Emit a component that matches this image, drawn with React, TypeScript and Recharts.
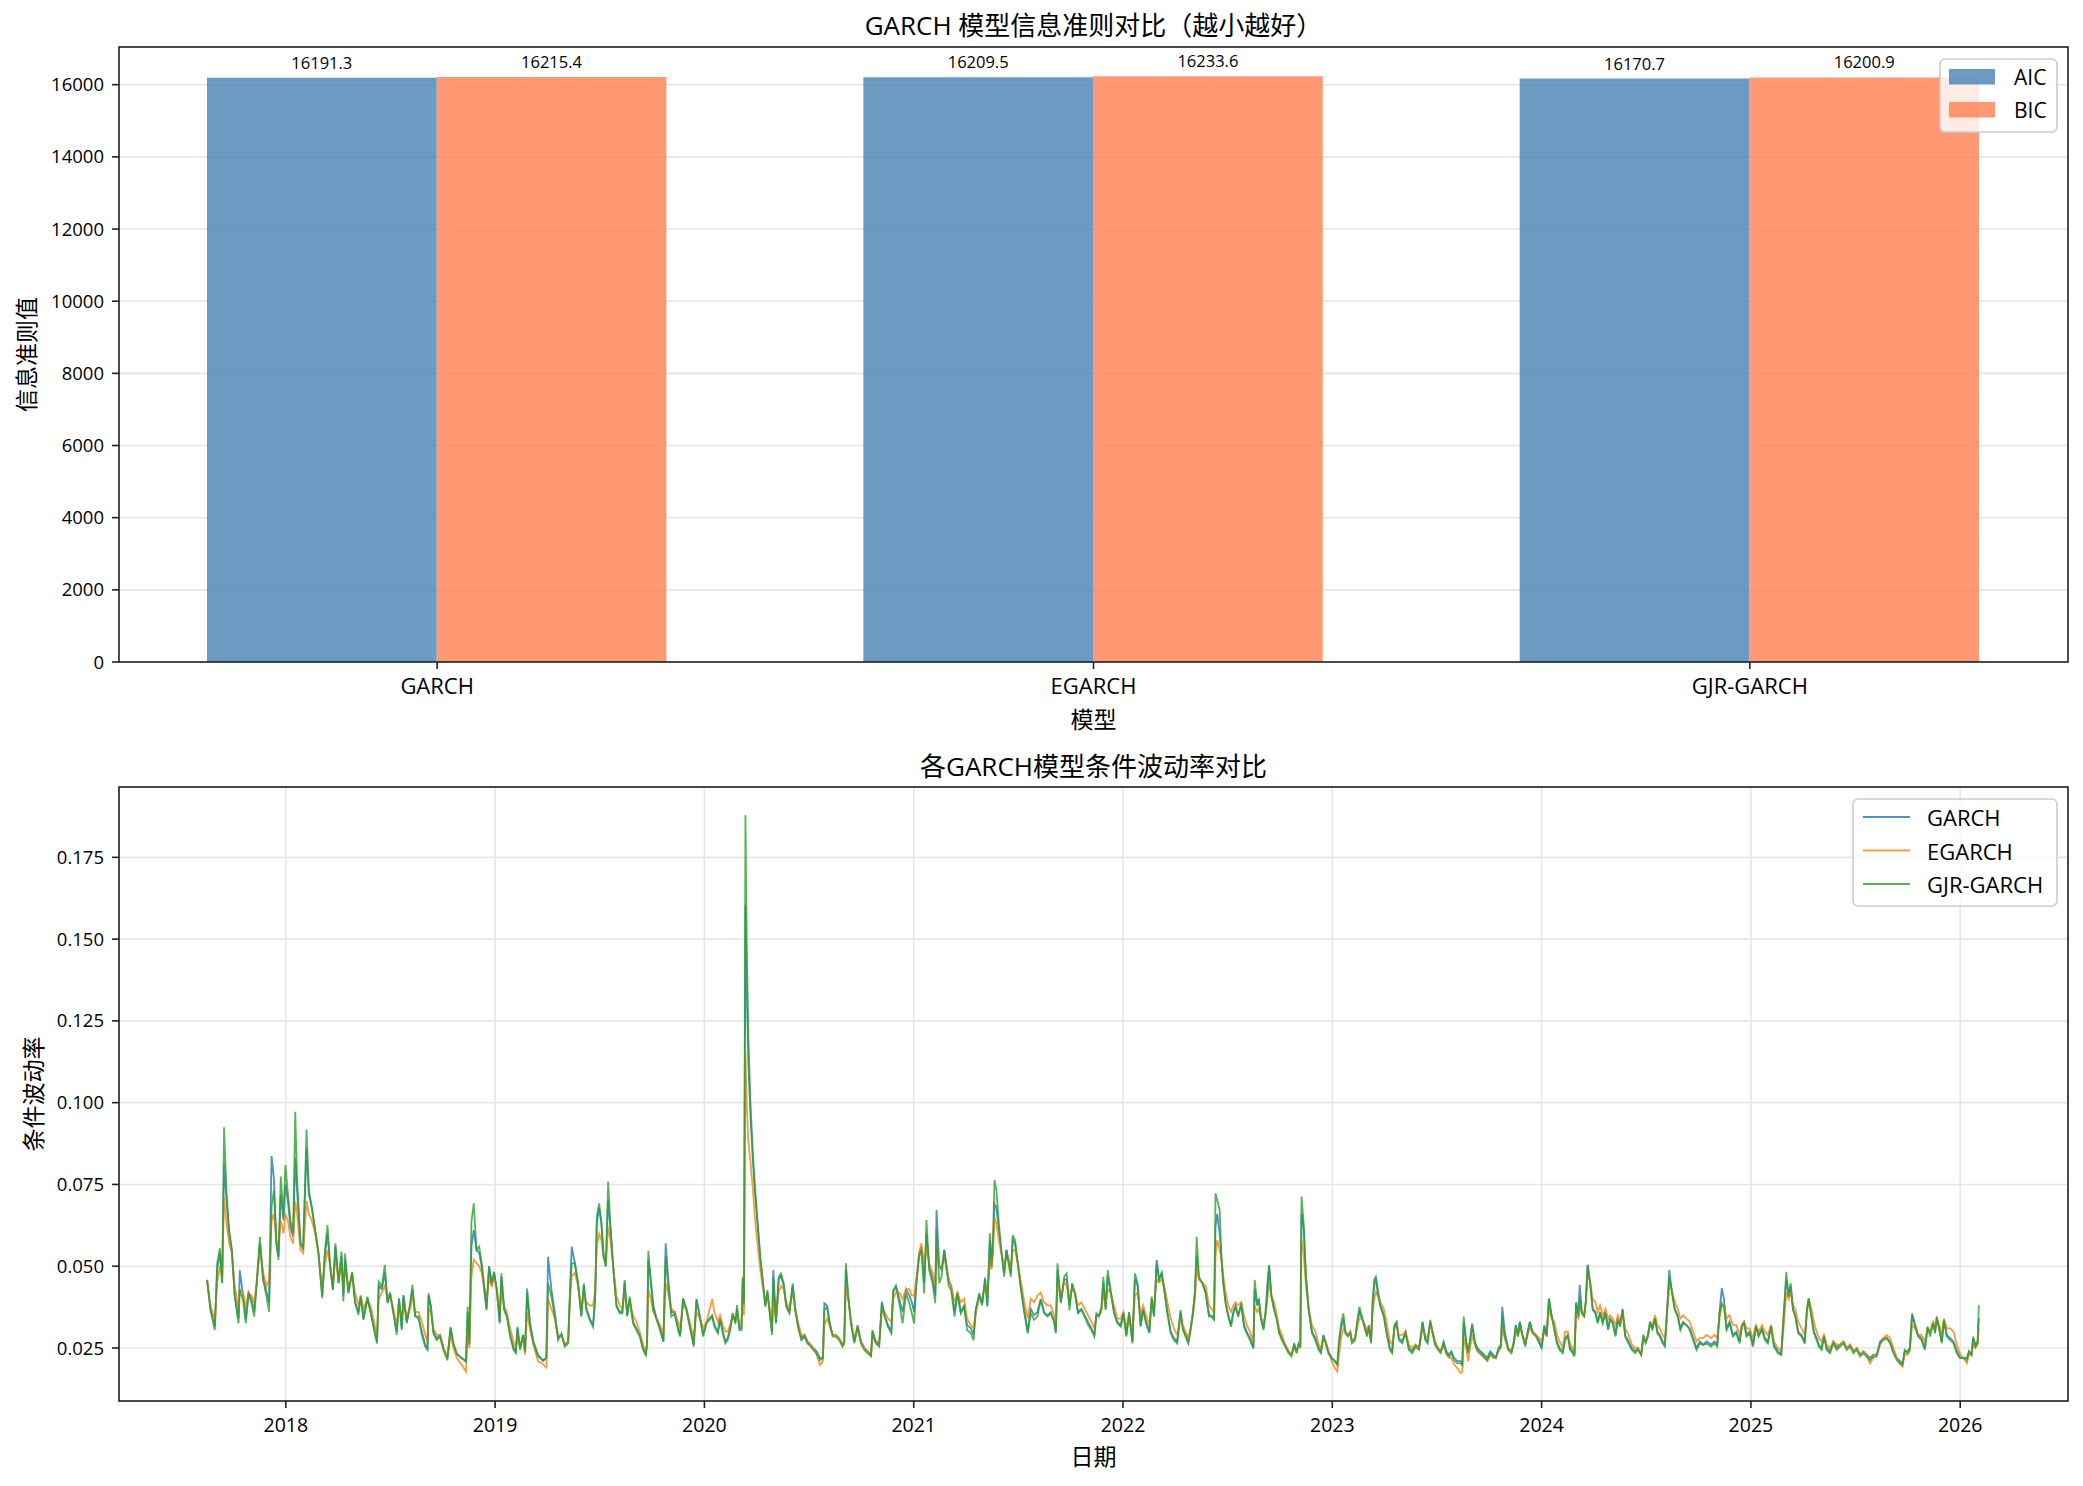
import React from 'react';
import { BarChart, Bar, XAxis, YAxis, CartesianGrid, LabelList, LineChart, Line } from 'recharts';

const FONT = '"Open Sans", "Noto Sans CJK SC", sans-serif';

// ---------- top chart data ----------
const models = ['GARCH', 'EGARCH', 'GJR-GARCH'];
const aicValues = [16191.3, 16209.5, 16170.7];
const bicValues = [16215.4, 16233.6, 16200.9];
const barTicks = [0, 2000, 4000, 6000, 8000, 10000, 12000, 14000, 16000];

// ---------- bottom chart data ----------
const yearTicks = [2018, 2019, 2020, 2021, 2022, 2023, 2024, 2025, 2026];
const volTicks = [0.025, 0.05, 0.075, 0.1, 0.125, 0.15, 0.175];

const volDates = [
  2017.624,2017.640,2017.661,2017.672,2017.685,2017.696,2017.705,2017.717,2017.729,2017.742,
  2017.756,2017.774,2017.780,2017.796,2017.809,2017.822,2017.836,2017.849,2017.861,2017.876,
  2017.892,2017.908,2017.920,2017.932,2017.943,2017.955,2017.965,2017.976,2017.989,2017.998,
  2018.010,2018.022,2018.035,2018.045,2018.054,2018.070,2018.083,2018.099,2018.110,2018.124,
  2018.140,2018.156,2018.174,2018.186,2018.199,2018.212,2018.225,2018.237,2018.252,2018.266,
  2018.275,2018.283,2018.299,2018.317,2018.331,2018.347,2018.358,2018.371,2018.390,2018.409,
  2018.425,2018.436,2018.444,2018.459,2018.473,2018.486,2018.498,2018.514,2018.530,2018.541,
  2018.554,2018.562,2018.578,2018.594,2018.605,2018.618,2018.634,2018.650,2018.666,2018.677,
  2018.682,2018.693,2018.705,2018.721,2018.737,2018.753,2018.772,2018.787,2018.801,2018.817,
  2018.839,2018.861,2018.869,2018.877,2018.887,2018.898,2018.911,2018.924,2018.936,2018.947,
  2018.959,2018.971,2018.984,2018.995,2019.008,2019.022,2019.030,2019.043,2019.056,2019.072,
  2019.088,2019.099,2019.107,2019.119,2019.134,2019.143,2019.153,2019.166,2019.183,2019.205,
  2019.229,2019.245,2019.253,2019.269,2019.285,2019.301,2019.317,2019.333,2019.349,2019.358,
  2019.366,2019.381,2019.396,2019.412,2019.424,2019.436,2019.452,2019.468,2019.478,2019.486,
  2019.497,2019.508,2019.518,2019.529,2019.540,2019.551,2019.564,2019.580,2019.596,2019.608,
  2019.619,2019.631,2019.643,2019.659,2019.675,2019.691,2019.707,2019.720,2019.726,2019.732,
  2019.744,2019.756,2019.772,2019.788,2019.804,2019.815,2019.826,2019.842,2019.858,2019.874,
  2019.884,2019.898,2019.914,2019.930,2019.949,2019.962,2019.978,2019.994,2020.010,
  2020.037,2020.048,2020.064,2020.075,2020.088,2020.100,2020.111,2020.123,2020.135,2020.148,
  2020.156,2020.167,2020.177,2020.183,2020.189,2020.196,2020.202,2020.210,2020.220,2020.231,
  2020.242,2020.255,2020.267,2020.278,2020.291,2020.301,2020.312,2020.323,2020.329,2020.342,
  2020.355,2020.366,2020.379,2020.391,2020.406,2020.422,2020.434,2020.447,2020.463,2020.479,
  2020.492,2020.508,2020.520,2020.536,2020.552,2020.566,2020.573,2020.586,2020.598,2020.613,
  2020.628,2020.644,2020.660,2020.668,2020.676,2020.687,2020.700,2020.716,2020.732,2020.748,
  2020.764,2020.780,2020.796,2020.803,2020.819,2020.835,2020.848,2020.861,2020.877,2020.893,
  2020.902,2020.915,2020.931,2020.947,2020.963,2020.979,2020.991,2021.002,2021.012,2021.026,
  2021.037,2021.050,2021.061,2021.074,2021.090,2021.103,2021.109,2021.122,2021.133,2021.146,
  2021.155,2021.168,2021.179,2021.195,2021.209,2021.225,2021.241,2021.255,2021.273,2021.286,
  2021.297,2021.313,2021.327,2021.341,2021.352,2021.364,2021.372,2021.379,2021.386,2021.395,
  2021.407,2021.418,2021.432,2021.443,2021.453,2021.464,2021.473,2021.484,2021.497,2021.513,
  2021.529,2021.545,2021.559,2021.575,2021.591,2021.607,2021.623,2021.639,2021.655,2021.671,
  2021.679,2021.687,2021.703,2021.719,2021.731,2021.744,2021.757,2021.770,2021.785,2021.801,
  2021.817,2021.833,2021.849,2021.863,2021.873,2021.885,2021.897,2021.906,2021.917,2021.927,
  2021.941,2021.957,2021.973,2021.989,2022.002,2022.016,2022.029,2022.045,2022.057,2022.070,
  2022.084,2022.096,2022.110,2022.126,2022.137,2022.148,2022.161,2022.172,2022.185,2022.197,
  2022.212,2022.228,2022.243,2022.259,2022.275,2022.286,2022.299,2022.312,2022.323,2022.334,
  2022.344,2022.352,2022.363,2022.379,2022.395,2022.411,
  2022.422,2022.435,2022.442,2022.450,2022.462,2022.470,2022.479,2022.490,2022.503,2022.516,
  2022.527,2022.538,2022.550,2022.565,2022.578,2022.591,2022.607,2022.623,2022.629,2022.641,
  2022.649,2022.660,2022.671,2022.681,2022.690,2022.698,2022.709,2022.722,2022.735,2022.746,
  2022.759,2022.775,2022.791,2022.805,2022.818,2022.829,2022.839,2022.847,2022.853,2022.863,
  2022.874,2022.887,2022.903,2022.919,2022.935,2022.946,2022.957,2022.968,2022.981,2022.997,
  2023.013,2023.024,2023.032,2023.042,2023.053,2023.062,2023.075,2023.086,2023.094,2023.109,
  2023.118,2023.129,2023.142,2023.157,2023.166,2023.174,2023.185,2023.193,2023.201,2023.208,
  2023.217,2023.230,2023.246,2023.259,2023.275,2023.286,2023.297,2023.307,2023.318,2023.334,
  2023.350,2023.366,2023.382,2023.398,2023.414,2023.423,2023.431,2023.444,2023.455,2023.468,
  2023.479,2023.492,2023.505,2023.518,2023.532,2023.545,2023.558,2023.569,2023.581,2023.597,
  2023.613,2023.621,2023.628,2023.639,2023.649,2023.658,2023.668,2023.681,2023.693,2023.709,
  2023.725,2023.741,2023.754,2023.768,2023.781,2023.794,2023.805,2023.812,2023.824,2023.840,
  2023.856,2023.867,2023.877,2023.887,2023.896,2023.909,2023.922,2023.933,2023.944,2023.957,
  2023.973,2023.989,2024.000,2024.013,2024.024,2024.035,2024.048,2024.061,2024.073,2024.086,
  2024.101,2024.112,2024.125,2024.136,2024.149,2024.157,2024.165,2024.176,2024.182,2024.192,
  2024.203,2024.211,2024.220,2024.232,2024.244,2024.257,2024.268,2024.279,2024.292,2024.305,
  2024.318,2024.327,2024.340,2024.353,2024.364,2024.375,2024.387,2024.399,2024.415,2024.431,
  2024.447,2024.460,2024.476,2024.486,2024.497,2024.508,2024.518,2024.529,2024.542,2024.553,
  2024.565,2024.578,2024.589,2024.597,2024.610,2024.621,2024.636,2024.650,2024.663,2024.676,
  2024.692,2024.708,2024.724,2024.740,2024.756,2024.772,2024.788,
  2024.810,2024.826,2024.839,2024.850,2024.861,2024.871,2024.884,2024.898,2024.914,2024.930,
  2024.946,2024.957,2024.967,2024.979,2024.994,2025.010,2025.024,2025.037,2025.053,2025.067,
  2025.081,2025.096,2025.110,2025.129,2025.145,2025.156,2025.169,2025.180,2025.190,2025.201,
  2025.212,2025.226,2025.242,2025.257,2025.268,2025.276,2025.289,2025.301,2025.314,2025.325,
  2025.338,2025.349,2025.362,2025.378,2025.394,2025.410,2025.426,2025.442,2025.458,2025.474,
  2025.490,2025.506,2025.522,2025.537,2025.553,2025.569,2025.585,2025.601,2025.617,2025.633,
  2025.649,2025.665,2025.681,2025.697,2025.713,2025.724,2025.735,2025.748,2025.759,2025.770,
  2025.783,2025.799,2025.815,2025.831,2025.844,2025.856,2025.871,2025.880,2025.888,2025.900,
  2025.912,2025.922,2025.936,2025.952,2025.968,2025.984,2026.000,2026.016,2026.032,2026.042,
  2026.054,2026.062,2026.073,2026.083,2026.089,
];

const garchVol = [
  .0458,.0370,.0315,.0490,.0540,.0450,.0810,.0700,.0600,.0550,
  .0410,.0340,.0488,.0410,.0340,.0420,.0400,.0360,.0450,.0570,
  .0460,.0420,.0390,.0837,.0770,.0570,.0530,.0720,.0640,.0750,
  .0700,.0620,.0590,.0830,.0730,.0570,.0560,.0860,.0720,.0680,
  .0610,.0540,.0410,.0530,.0600,.0500,.0430,.0560,.0450,.0530,
  .0410,.0520,.0420,.0480,.0390,.0360,.0410,.0340,.0400,.0350,
  .0300,.0270,.0440,.0430,.0480,.0390,.0420,.0360,.0300,.0400,
  .0310,.0410,.0330,.0380,.0430,.0350,.0340,.0300,.0260,.0250,
  .0410,.0380,.0300,.0280,.0290,.0250,.0220,.0310,.0260,.0230,
  .0220,.0210,.0360,.0260,.0560,.0610,.0550,.0540,.0500,.0430,
  .0370,.0500,.0440,.0480,.0430,.0330,.0470,.0370,.0350,.0290,
  .0250,.0240,.0310,.0250,.0290,.0240,.0420,.0330,.0270,.0230,
  .0210,.0220,.0529,.0430,.0360,.0280,.0290,.0260,.0270,.0430,
  .0560,.0510,.0450,.0350,.0440,.0370,.0340,.0320,.0400,.0630,
  .0680,.0630,.0540,.0500,.0700,.0620,.0500,.0380,.0360,.0360,
  .0450,.0350,.0400,.0330,.0310,.0290,.0250,.0230,.0260,.0520,
  .0460,.0380,.0340,.0310,.0270,.0570,.0470,.0360,.0360,.0310,
  .0290,.0400,.0370,.0320,.0260,.0400,.0350,.0290,.0330,
  .0350,.0320,.0300,.0340,.0300,.0270,.0280,.0310,.0350,.0330,
  .0370,.0310,.0310,.0460,.0380,.1604,.1350,.1120,.0960,.0830,
  .0720,.0620,.0520,.0460,.0380,.0420,.0360,.0300,.0488,.0330,
  .0460,.0470,.0440,.0380,.0360,.0440,.0370,.0320,.0280,.0290,
  .0270,.0260,.0250,.0240,.0220,.0220,.0387,.0380,.0330,.0290,
  .0290,.0280,.0260,.0270,.0490,.0410,.0330,.0270,.0320,.0270,
  .0250,.0240,.0230,.0300,.0270,.0260,.0392,.0350,.0320,.0300,
  .0420,.0440,.0400,.0360,.0430,.0410,.0390,.0360,.0450,.0540,
  .0560,.0450,.0600,.0500,.0460,.0410,.0672,.0500,.0490,.0550,
  .0510,.0450,.0440,.0360,.0420,.0360,.0380,.0320,.0310,.0290,
  .0370,.0410,.0380,.0465,.0380,.0580,.0500,.0570,.0690,.0680,
  .0610,.0550,.0480,.0550,.0520,.0480,.0580,.0570,.0510,.0430,
  .0360,.0300,.0370,.0350,.0360,.0400,.0360,.0350,.0360,.0330,
  .0300,.0490,.0390,.0460,.0460,.0380,.0440,.0420,.0360,.0370,
  .0350,.0330,.0310,.0290,.0350,.0350,.0370,.0450,.0370,.0470,
  .0420,.0360,.0330,.0320,.0360,.0290,.0360,.0270,.0460,.0440,
  .0320,.0370,.0330,.0300,.0400,.0350,.0519,.0460,.0480,.0430,
  .0360,.0300,.0280,.0270,.0360,.0310,.0290,.0270,.0310,.0360,
  .0420,.0529,.0460,.0450,.0420,.0350,
  .0350,.0340,.0620,.0660,.0600,.0530,.0450,.0390,.0350,.0320,
  .0360,.0380,.0350,.0380,.0320,.0300,.0280,.0250,.0430,.0380,
  .0400,.0340,.0310,.0360,.0450,.0500,.0410,.0370,.0340,.0300,
  .0280,.0260,.0240,.0230,.0260,.0240,.0260,.0250,.0660,.0620,
  .0470,.0370,.0300,.0280,.0250,.0240,.0290,.0270,.0240,.0220,
  .0210,.0200,.0260,.0310,.0340,.0300,.0290,.0300,.0270,.0280,
  .0320,.0360,.0340,.0310,.0290,.0320,.0270,.0400,.0460,.0468,
  .0430,.0380,.0350,.0300,.0250,.0240,.0320,.0330,.0280,.0270,
  .0300,.0250,.0240,.0260,.0250,.0290,.0330,.0280,.0270,.0330,
  .0300,.0260,.0250,.0240,.0270,.0240,.0230,.0240,.0220,.0210,
  .0210,.0200,.0330,.0270,.0240,.0270,.0320,.0270,.0250,.0240,
  .0230,.0220,.0240,.0230,.0220,.0250,.0260,.0376,.0300,.0250,
  .0240,.0270,.0320,.0290,.0330,.0290,.0260,.0300,.0330,.0300,
  .0290,.0270,.0250,.0320,.0290,.0400,.0350,.0310,.0270,.0250,
  .0240,.0280,.0290,.0250,.0240,.0230,.0390,.0350,.0443,.0360,
  .0350,.0390,.0504,.0450,.0370,.0360,.0330,.0360,.0330,.0360,
  .0310,.0340,.0330,.0290,.0340,.0320,.0370,.0290,.0270,.0250,
  .0240,.0250,.0230,.0290,.0270,.0290,.0330,.0310,.0340,.0300,
  .0290,.0270,.0260,.0340,.0488,.0430,.0370,.0350,.0310,.0330,
  .0320,.0310,.0280,.0250,.0270,.0260,.0270,
  .0260,.0270,.0260,.0360,.0433,.0400,.0310,.0330,.0290,.0300,
  .0270,.0320,.0330,.0290,.0300,.0260,.0320,.0290,.0310,.0280,
  .0270,.0320,.0260,.0240,.0230,.0340,.0460,.0410,.0440,.0370,
  .0350,.0300,.0290,.0270,.0370,.0400,.0350,.0300,.0280,.0260,
  .0250,.0290,.0250,.0240,.0270,.0250,.0260,.0270,.0250,.0260,
  .0240,.0250,.0230,.0240,.0230,.0220,.0230,.0230,.0270,.0280,
  .0280,.0270,.0240,.0220,.0210,.0200,.0240,.0240,.0250,.0350,
  .0320,.0290,.0280,.0250,.0310,.0300,.0330,.0300,.0340,.0310,
  .0270,.0330,.0290,.0280,.0270,.0240,.0220,.0220,.0220,.0240,
  .0230,.0280,.0260,.0270,.0340,
];

const egarchVol = [
  .0455,.0380,.0335,.0450,.0500,.0470,.0710,.0630,.0570,.0540,
  .0440,.0370,.0430,.0420,.0370,.0420,.0410,.0390,.0450,.0550,
  .0480,.0440,.0460,.0640,.0660,.0580,.0560,.0640,.0600,.0660,
  .0640,.0590,.0570,.0700,.0660,.0550,.0540,.0700,.0660,.0640,
  .0600,.0540,.0430,.0500,.0550,.0500,.0450,.0520,.0460,.0500,
  .0430,.0490,.0440,.0470,.0420,.0380,.0410,.0370,.0400,.0370,
  .0320,.0290,.0400,.0420,.0440,.0400,.0410,.0370,.0320,.0380,
  .0340,.0390,.0350,.0370,.0410,.0360,.0360,.0330,.0290,.0270,
  .0370,.0360,.0310,.0290,.0290,.0250,.0220,.0290,.0250,.0220,
  .0200,.0178,.0300,.0250,.0470,.0520,.0510,.0500,.0480,.0440,
  .0400,.0460,.0440,.0470,.0430,.0360,.0430,.0380,.0360,.0310,
  .0270,.0250,.0290,.0260,.0280,.0230,.0360,.0310,.0260,.0210,
  .0200,.0190,.0400,.0370,.0340,.0290,.0290,.0260,.0270,.0410,
  .0470,.0480,.0440,.0370,.0420,.0390,.0380,.0380,.0430,.0560,
  .0600,.0580,.0530,.0510,.0620,.0580,.0500,.0410,.0380,.0370,
  .0420,.0370,.0390,.0350,.0330,.0300,.0260,.0240,.0260,.0430,
  .0400,.0360,.0340,.0320,.0290,.0450,.0420,.0370,.0360,.0330,
  .0310,.0380,.0370,.0330,.0280,.0360,.0340,.0310,.0330,
  .0400,.0360,.0330,.0350,.0320,.0300,.0300,.0320,.0350,.0340,
  .0360,.0320,.0320,.0400,.0350,.1156,.1000,.0880,.0820,.0740,
  .0640,.0560,.0490,.0440,.0390,.0410,.0370,.0320,.0400,.0340,
  .0420,.0440,.0430,.0390,.0370,.0420,.0370,.0330,.0290,.0290,
  .0270,.0260,.0250,.0230,.0198,.0210,.0320,.0340,.0320,.0290,
  .0290,.0280,.0260,.0270,.0440,.0400,.0340,.0280,.0310,.0270,
  .0250,.0240,.0230,.0280,.0270,.0270,.0360,.0360,.0340,.0330,
  .0400,.0420,.0420,.0400,.0430,.0430,.0410,.0410,.0460,.0540,
  .0570,.0500,.0560,.0510,.0480,.0440,.0560,.0500,.0500,.0530,
  .0500,.0460,.0440,.0390,.0420,.0390,.0400,.0340,.0320,.0310,
  .0360,.0400,.0400,.0440,.0410,.0520,.0490,.0540,.0650,.0630,
  .0580,.0540,.0500,.0530,.0520,.0490,.0550,.0550,.0510,.0450,
  .0390,.0340,.0400,.0390,.0410,.0420,.0390,.0380,.0380,.0350,
  .0320,.0450,.0400,.0450,.0440,.0400,.0430,.0420,.0380,.0390,
  .0370,.0350,.0330,.0310,.0350,.0350,.0360,.0420,.0380,.0430,
  .0420,.0380,.0340,.0340,.0360,.0310,.0350,.0290,.0410,.0420,
  .0350,.0380,.0350,.0320,.0390,.0370,.0460,.0450,.0460,.0440,
  .0390,.0340,.0310,.0290,.0340,.0320,.0300,.0280,.0310,.0350,
  .0400,.0500,.0460,.0450,.0440,.0380,
  .0370,.0360,.0530,.0580,.0550,.0520,.0470,.0420,.0380,.0360,
  .0380,.0390,.0380,.0390,.0350,.0320,.0300,.0270,.0380,.0360,
  .0370,.0340,.0330,.0350,.0400,.0450,.0410,.0390,.0350,.0310,
  .0290,.0260,.0240,.0230,.0250,.0240,.0260,.0250,.0580,.0540,
  .0440,.0370,.0320,.0300,.0260,.0250,.0280,.0270,.0240,.0210,
  .0188,.0178,.0230,.0280,.0310,.0300,.0290,.0300,.0270,.0280,
  .0310,.0340,.0340,.0320,.0300,.0310,.0280,.0360,.0400,.0420,
  .0410,.0390,.0370,.0330,.0270,.0260,.0310,.0320,.0290,.0290,
  .0300,.0260,.0250,.0260,.0250,.0280,.0310,.0290,.0280,.0320,
  .0300,.0270,.0250,.0240,.0260,.0230,.0220,.0220,.0200,.0188,
  .0173,.0178,.0280,.0250,.0210,.0250,.0290,.0260,.0240,.0230,
  .0220,.0210,.0230,.0220,.0220,.0240,.0250,.0310,.0280,.0250,
  .0240,.0260,.0300,.0290,.0310,.0290,.0270,.0290,.0310,.0300,
  .0290,.0280,.0270,.0300,.0290,.0370,.0340,.0330,.0290,.0270,
  .0250,.0300,.0300,.0260,.0250,.0240,.0350,.0340,.0380,.0360,
  .0350,.0390,.0480,.0450,.0400,.0390,.0360,.0380,.0350,.0370,
  .0340,.0350,.0340,.0320,.0350,.0330,.0360,.0310,.0290,.0260,
  .0250,.0250,.0230,.0280,.0270,.0290,.0320,.0320,.0350,.0320,
  .0310,.0290,.0280,.0330,.0440,.0430,.0390,.0370,.0340,.0350,
  .0340,.0330,.0300,.0270,.0280,.0280,.0290,
  .0280,.0290,.0280,.0340,.0380,.0380,.0340,.0350,.0320,.0320,
  .0290,.0320,.0330,.0310,.0310,.0280,.0320,.0300,.0320,.0300,
  .0290,.0320,.0270,.0250,.0240,.0310,.0420,.0400,.0420,.0380,
  .0370,.0330,.0310,.0290,.0360,.0400,.0370,.0330,.0300,.0280,
  .0270,.0290,.0260,.0250,.0270,.0260,.0260,.0270,.0250,.0260,
  .0240,.0250,.0230,.0240,.0230,.0203,.0220,.0230,.0260,.0280,
  .0290,.0280,.0250,.0220,.0200,.0193,.0230,.0230,.0240,.0320,
  .0310,.0290,.0290,.0270,.0310,.0300,.0330,.0310,.0340,.0320,
  .0290,.0340,.0310,.0310,.0300,.0260,.0230,.0220,.0203,.0230,
  .0230,.0260,.0250,.0260,.0310,
];

const gjrVol = [
  .0458,.0366,.0305,.0509,.0555,.0448,.0925,.0723,.0611,.0550,
  .0407,.0325,.0427,.0397,.0325,.0417,.0387,.0346,.0448,.0590,
  .0458,.0407,.0361,.0682,.0733,.0570,.0519,.0774,.0652,.0809,
  .0723,.0641,.0601,.0972,.0764,.0570,.0550,.0918,.0733,.0682,
  .0611,.0539,.0402,.0539,.0626,.0499,.0427,.0570,.0448,.0545,
  .0392,.0539,.0417,.0483,.0387,.0351,.0407,.0336,.0407,.0346,
  .0295,.0264,.0453,.0438,.0504,.0387,.0417,.0356,.0290,.0402,
  .0305,.0412,.0325,.0387,.0443,.0346,.0346,.0290,.0254,.0244,
  .0417,.0376,.0295,.0274,.0285,.0244,.0213,.0315,.0264,.0234,
  .0219,.0208,.0376,.0264,.0636,.0692,.0550,.0560,.0509,.0448,
  .0366,.0499,.0448,.0483,.0427,.0325,.0478,.0366,.0346,.0285,
  .0244,.0234,.0315,.0244,.0290,.0239,.0432,.0325,.0264,.0224,
  .0213,.0219,.0448,.0407,.0346,.0274,.0295,.0254,.0264,.0417,
  .0509,.0509,.0448,.0346,.0448,.0366,.0336,.0315,.0407,.0652,
  .0692,.0631,.0529,.0499,.0758,.0621,.0499,.0376,.0356,.0356,
  .0458,.0346,.0407,.0325,.0305,.0285,.0244,.0229,.0264,.0547,
  .0448,.0366,.0336,.0305,.0270,.0529,.0448,.0346,.0356,.0305,
  .0285,.0402,.0366,.0315,.0254,.0397,.0346,.0285,.0325,
  .0346,.0315,.0295,.0336,.0295,.0264,.0274,.0305,.0356,.0325,
  .0381,.0305,.0305,.0468,.0387,.1879,.1500,.1200,.1000,.0850,
  .0740,.0630,.0530,.0460,.0376,.0427,.0356,.0290,.0468,.0325,
  .0468,.0478,.0448,.0376,.0356,.0448,.0366,.0315,.0274,.0285,
  .0264,.0254,.0244,.0234,.0213,.0219,.0366,.0376,.0325,.0285,
  .0285,.0274,.0254,.0264,.0509,.0407,.0325,.0264,.0315,.0264,
  .0244,.0234,.0224,.0305,.0264,.0254,.0387,.0346,.0315,.0295,
  .0427,.0438,.0387,.0325,.0417,.0387,.0356,.0325,.0438,.0529,
  .0550,.0417,.0641,.0488,.0448,.0387,.0611,.0448,.0468,.0550,
  .0499,.0438,.0427,.0346,.0417,.0356,.0376,.0305,.0295,.0274,
  .0366,.0417,.0387,.0458,.0376,.0601,.0499,.0590,.0764,.0733,
  .0631,.0550,.0468,.0550,.0509,.0468,.0595,.0580,.0509,.0427,
  .0356,.0295,.0356,.0336,.0346,.0397,.0356,.0346,.0356,.0330,
  .0295,.0509,.0387,.0468,.0478,.0366,.0448,.0417,.0356,.0366,
  .0346,.0320,.0305,.0285,.0356,.0346,.0376,.0468,.0366,.0488,
  .0427,.0356,.0325,.0315,.0356,.0285,.0356,.0264,.0478,.0448,
  .0315,.0366,.0325,.0295,.0407,.0346,.0509,.0458,.0478,.0427,
  .0356,.0295,.0274,.0264,.0366,.0305,.0285,.0264,.0305,.0356,
  .0427,.0590,.0468,.0448,.0417,.0346,
  .0346,.0336,.0723,.0702,.0672,.0529,.0448,.0387,.0346,.0315,
  .0356,.0376,.0346,.0387,.0315,.0295,.0274,.0249,.0458,.0387,
  .0397,.0336,.0305,.0356,.0417,.0504,.0407,.0366,.0336,.0295,
  .0274,.0254,.0234,.0224,.0264,.0234,.0264,.0254,.0713,.0631,
  .0468,.0366,.0295,.0274,.0244,.0234,.0285,.0264,.0234,.0219,
  .0208,.0198,.0274,.0325,.0356,.0295,.0285,.0295,.0264,.0274,
  .0325,.0376,.0346,.0305,.0285,.0315,.0264,.0387,.0448,.0458,
  .0417,.0376,.0346,.0295,.0244,.0234,.0315,.0325,.0274,.0264,
  .0295,.0244,.0234,.0254,.0244,.0285,.0330,.0274,.0264,.0336,
  .0295,.0259,.0244,.0234,.0264,.0234,.0224,.0234,.0213,.0203,
  .0203,.0198,.0346,.0274,.0234,.0274,.0325,.0264,.0244,.0234,
  .0224,.0213,.0234,.0224,.0219,.0244,.0254,.0346,.0285,.0244,
  .0234,.0264,.0320,.0285,.0330,.0285,.0254,.0295,.0330,.0295,
  .0285,.0264,.0249,.0315,.0285,.0402,.0346,.0305,.0264,.0244,
  .0234,.0274,.0285,.0244,.0234,.0224,.0387,.0346,.0407,.0356,
  .0346,.0387,.0504,.0448,.0366,.0356,.0325,.0356,.0325,.0356,
  .0305,.0336,.0325,.0285,.0336,.0315,.0366,.0285,.0264,.0244,
  .0234,.0244,.0229,.0285,.0264,.0285,.0330,.0305,.0341,.0295,
  .0285,.0264,.0254,.0336,.0468,.0427,.0366,.0346,.0305,.0325,
  .0320,.0305,.0274,.0244,.0264,.0259,.0264,
  .0254,.0264,.0254,.0356,.0387,.0376,.0305,.0325,.0285,.0295,
  .0264,.0315,.0325,.0285,.0295,.0254,.0315,.0285,.0305,.0274,
  .0264,.0315,.0254,.0234,.0229,.0346,.0483,.0407,.0448,.0366,
  .0346,.0295,.0285,.0264,.0366,.0402,.0346,.0295,.0274,.0254,
  .0244,.0285,.0244,.0234,.0264,.0244,.0254,.0264,.0244,.0254,
  .0234,.0244,.0224,.0234,.0224,.0213,.0224,.0224,.0264,.0274,
  .0280,.0264,.0234,.0213,.0203,.0198,.0244,.0234,.0244,.0356,
  .0325,.0285,.0274,.0244,.0315,.0285,.0325,.0295,.0346,.0305,
  .0264,.0336,.0285,.0274,.0264,.0234,.0219,.0219,.0213,.0239,
  .0229,.0285,.0254,.0264,.0381,
];

const barData = models.map((m, i) => ({ model: m, AIC: aicValues[i], BIC: bicValues[i] }));
const volData = volDates.map((t, i) => ({ t, GARCH: garchVol[i], EGARCH: egarchVol[i], 'GJR-GARCH': gjrVol[i] }));

const AXIS = '#222222';
const GRID = '#e6e6e6';
const tickStyle = (size: number) => ({ fontSize: size, fill: '#000', fontFamily: FONT });

const lineSeries = [
  { key: 'GARCH', color: '#1f77b4' },
  { key: 'EGARCH', color: '#ff7f0e' },
  { key: 'GJR-GARCH', color: '#2ca02c' },
];

export default function App() {
  return (
    <div style={{ position: 'absolute', left: 0, top: 0, width: 2083, height: 1486, background: '#fff', fontFamily: FONT }}>
      <div style={{ position: 'absolute', left: 0, top: 0 }}>
        <BarChart width={2083} height={740} data={barData} margin={{ top: 47, right: 15, left: 59, bottom: 38 }} barGap={0} barSize={229.7}>
          <CartesianGrid vertical={false} stroke={GRID} strokeWidth={1.6} />
          <XAxis dataKey="model" height={40} padding={{ left: -10, right: -10 }} axisLine={false} interval={0}
            tickLine={{ stroke: AXIS, strokeWidth: 1.6 }} tickSize={7} tickMargin={9} tick={tickStyle(22)} />
          <YAxis width={60} domain={[0, 17045]} ticks={barTicks} axisLine={false} allowDataOverflow
            tickLine={{ stroke: AXIS, strokeWidth: 1.6 }} tickSize={7} tickMargin={8} tick={tickStyle(18.5)} />
          <Bar dataKey="AIC" fill="#4682B4" fillOpacity={0.8} isAnimationActive={false}>
            <LabelList dataKey="AIC" position="top" offset={9} formatter={(v: any) => Number(v).toFixed(1)}
              fill="#000" fontSize={16.5} fontFamily={FONT} />
          </Bar>
          <Bar dataKey="BIC" fill="#FF7F50" fillOpacity={0.8} isAnimationActive={false}>
            <LabelList dataKey="BIC" position="top" offset={9} formatter={(v: any) => Number(v).toFixed(1)}
              fill="#000" fontSize={16.5} fontFamily={FONT} />
          </Bar>
        </BarChart>
      </div>

      <div style={{ position: 'absolute', left: 0, top: 740 }}>
        <LineChart width={2083} height={746} data={volData} margin={{ top: 47, right: 15, left: 59, bottom: 45 }}>
          <CartesianGrid stroke={GRID} strokeWidth={1.6} />
          <XAxis dataKey="t" type="number" domain={[2017.203, 2026.515]} ticks={yearTicks} allowDataOverflow height={40}
            axisLine={false} tickLine={{ stroke: AXIS, strokeWidth: 1.6 }} tickSize={7} tickMargin={10}
            tick={tickStyle(19.5)} tickFormatter={(v: any) => String(v)} />
          <YAxis type="number" domain={[0.0088, 0.1965]} ticks={volTicks} allowDataOverflow width={60}
            axisLine={false} tickLine={{ stroke: AXIS, strokeWidth: 1.6 }} tickSize={7} tickMargin={8}
            tick={tickStyle(18.5)} tickFormatter={(v: any) => Number(v).toFixed(3)} />
          {lineSeries.map((s) => (
            <Line key={s.key} dataKey={s.key} type="linear" stroke={s.color} strokeWidth={1.8} strokeOpacity={0.8}
              dot={false} activeDot={false} isAnimationActive={false} />
          ))}
        </LineChart>
      </div>

      <svg width={2083} height={1486} style={{ position: 'absolute', left: 0, top: 0, pointerEvents: 'none' }} fontFamily={FONT}>
        {/* frames */}
        <rect x={119} y={47} width={1949} height={615} fill="none" stroke={AXIS} strokeWidth={1.6} />
        <rect x={119} y={787} width={1949} height={614} fill="none" stroke={AXIS} strokeWidth={1.6} />

        {/* titles and axis labels */}
        <text x={1093.5} y={25} textAnchor="middle" dominantBaseline="central" fontSize={26} fill="#000">GARCH 模型信息准则对比（越小越好）</text>
        <text x={1093.5} y={718.5} textAnchor="middle" dominantBaseline="central" fontSize={23} fill="#000">模型</text>
        <text x={26} y={354.5} textAnchor="middle" dominantBaseline="central" fontSize={23} fill="#000" transform="rotate(-90 26 354.5)">信息准则值</text>
        <text x={1093.5} y={766} textAnchor="middle" dominantBaseline="central" fontSize={26} fill="#000">各GARCH模型条件波动率对比</text>
        <text x={1093.5} y={1456} textAnchor="middle" dominantBaseline="central" fontSize={23} fill="#000">日期</text>
        <text x={33} y={1094} textAnchor="middle" dominantBaseline="central" fontSize={23} fill="#000" transform="rotate(-90 33 1094)">条件波动率</text>

        {/* top legend */}
        <rect x={1940} y={59} width={117} height={73} rx={5} fill="#fff" fillOpacity={0.8} stroke="#cccccc" strokeWidth={1.6} />
        <rect x={1949} y={69} width={46} height={15.5} fill="#4682B4" fillOpacity={0.8} />
        <rect x={1949} y={102} width={46} height={15.5} fill="#FF7F50" fillOpacity={0.8} />
        <text x={2014} y={77} dominantBaseline="central" fontSize={21} fill="#000">AIC</text>
        <text x={2014} y={110} dominantBaseline="central" fontSize={21} fill="#000">BIC</text>

        {/* bottom legend */}
        <rect x={1853} y={799} width={204} height={107} rx={5} fill="#fff" fillOpacity={0.8} stroke="#cccccc" strokeWidth={1.6} />
        {lineSeries.map((s, i) => (
          <g key={s.key}>
            <line x1={1863} x2={1910} y1={817 + i * 33.5} y2={817 + i * 33.5} stroke={s.color} strokeWidth={1.8} strokeOpacity={0.8} />
            <text x={1927} y={817 + i * 33.5} dominantBaseline="central" fontSize={22} fill="#000">{s.key}</text>
          </g>
        ))}
      </svg>
    </div>
  );
}
